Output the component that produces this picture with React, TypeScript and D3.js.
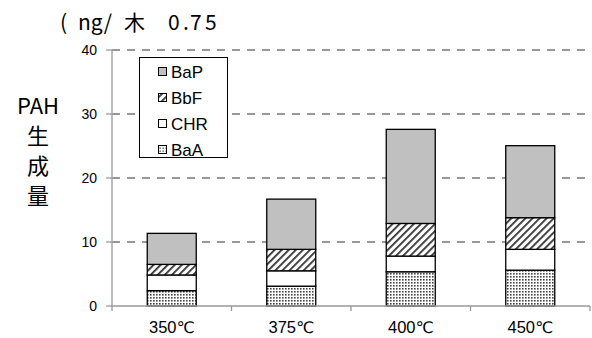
import React from "react";
import * as d3 from "d3";

const categories = ["350", "375", "400", "450"];
const unitSuffix = "℃";
const seriesNames = ["BaA", "CHR", "BbF", "BaP"];
const BaA = [2.4, 3.1, 5.35, 5.6];
const CHR = [2.45, 2.4, 2.45, 3.25];
const BbF = [1.65, 3.35, 5.1, 4.95];
const BaP = [4.85, 7.85, 14.7, 11.25];
const yTicks = [0, 10, 20, 30, 40];
const legendOrder = ["BaP", "BbF", "CHR", "BaA"];
const titleParts = ["(", "ng/", "木", "0", ".", "7", "5"];
const yLabel = ["PAH", "生", "成", "量"];

const W = 592, H = 338;
const left = 112, right = 590, top = 50, bottom = 306;
const titleX = [60, 78, 124, 168, 183, 190, 205];

export default function App() {
  const x = d3.scaleBand().domain(categories).range([left, right]).paddingInner(0).paddingOuter(0);
  const y = d3.scaleLinear().domain([0, 40]).range([bottom, top]);
  const rows = categories.map((c, i) => ({ cat: c, BaA: BaA[i], CHR: CHR[i], BbF: BbF[i], BaP: BaP[i] }));
  const stack = d3.stack<any>().keys(seriesNames)(rows);
  const fills: Record<string, string> = {
    BaA: "url(#dots)",
    CHR: "#ffffff",
    BbF: "url(#hatch)",
    BaP: "#c0c0c0",
  };
  const barW = 49;
  const bw = x.bandwidth();
  const boundaries = [...categories.map((c) => x(c)!), right];
  return (
    <svg width={W} height={H} style={{ position: "absolute", left: 0, top: 0, background: "#fff" }}>
      <defs>
        <pattern id="hatch" patternUnits="userSpaceOnUse" width="5" height="5" patternTransform="rotate(45)">
          <rect width="5" height="5" fill="#fff" />
          <rect x="0" y="0" width="1.8" height="5" fill="#333" />
        </pattern>
        <pattern id="dots" patternUnits="userSpaceOnUse" width="3" height="3">
          <rect width="3" height="3" fill="#fff" />
          <rect x="0" y="0" width="1.6" height="1.6" fill="#444" />
        </pattern>
        <pattern id="dotsL" patternUnits="userSpaceOnUse" width="3" height="3">
          <rect width="3" height="3" fill="#fff" />
          <rect x="0.5" y="0.5" width="1.3" height="1.3" fill="#444" />
        </pattern>
      </defs>
      <rect width={W} height={H} fill="#fff" />
      {yTicks.filter((t) => t > 0).map((t) => (
        <line key={t} x1={left} x2={right} y1={y(t)} y2={y(t)} stroke="#777" strokeWidth={1.5} strokeDasharray="8,7" />
      ))}
      {stack.map((s) =>
        s.map((d, i) => {
          const cx = x(categories[i])! + bw / 2;
          return (
            <rect key={s.key + i} x={cx - barW / 2} y={y(d[1])} width={barW} height={y(d[0]) - y(d[1])}
              fill={fills[s.key]} stroke="#000" strokeWidth={1.3} />
          );
        })
      )}
      <line x1={left} x2={left} y1={top} y2={bottom} stroke="#999" strokeWidth={1.3} />
      <line x1={left} x2={right} y1={bottom} y2={bottom} stroke="#999" strokeWidth={1.3} />
      {yTicks.map((t) => (
        <g key={t}>
          <line x1={left - 6} x2={left} y1={y(t)} y2={y(t)} stroke="#999" strokeWidth={1.3} />
          <text x={97} y={y(t)} dy="0.35em" textAnchor="end" fontFamily="Liberation Sans, Arial" fontSize={14} fill="#000">{t}</text>
        </g>
      ))}
      {boundaries.map((b, i) => (
        <line key={i} x1={b} x2={b} y1={bottom} y2={bottom + 5} stroke="#999" strokeWidth={1.3} />
      ))}
      {categories.map((c) => (
        <text key={c} x={x(c)! + bw / 2} y={333} textAnchor="middle" fontFamily="Liberation Sans, Arial" fontSize={16.5} fill="#000">
          {c}<tspan fontFamily="DejaVu Sans" fontSize={16}>{unitSuffix}</tspan>
        </text>
      ))}
      <rect x={139.5} y={57.5} width={88} height={100} fill="#fff" stroke="#000" strokeWidth={1} />
      {legendOrder.map((k, i) => {
        const cy = 72 + i * 26;
        return (
          <g key={k}>
            <rect x={158.5} y={cy - 4.5} width={8} height={8} fill={k === "BaA" ? "url(#dotsL)" : fills[k]} stroke="#000" strokeWidth={1} />
            <text x={171} y={cy} dy="0.36em" fontFamily="Liberation Sans, Arial" fontSize={17} fill="#000">{k}</text>
          </g>
        );
      })}
      {titleParts.map((p, i) => (
        <text key={i} x={titleX[i]} y={30} fontFamily="Noto Sans CJK JP" fontSize={21} fill="#000">{p}</text>
      ))}
      {yLabel.map((s, i) => (
        <text key={s} x={38} y={114 + i * 30} textAnchor="middle" fontFamily="Noto Sans CJK JP" fontSize={22} fill="#000">{s}</text>
      ))}
    </svg>
  );
}
